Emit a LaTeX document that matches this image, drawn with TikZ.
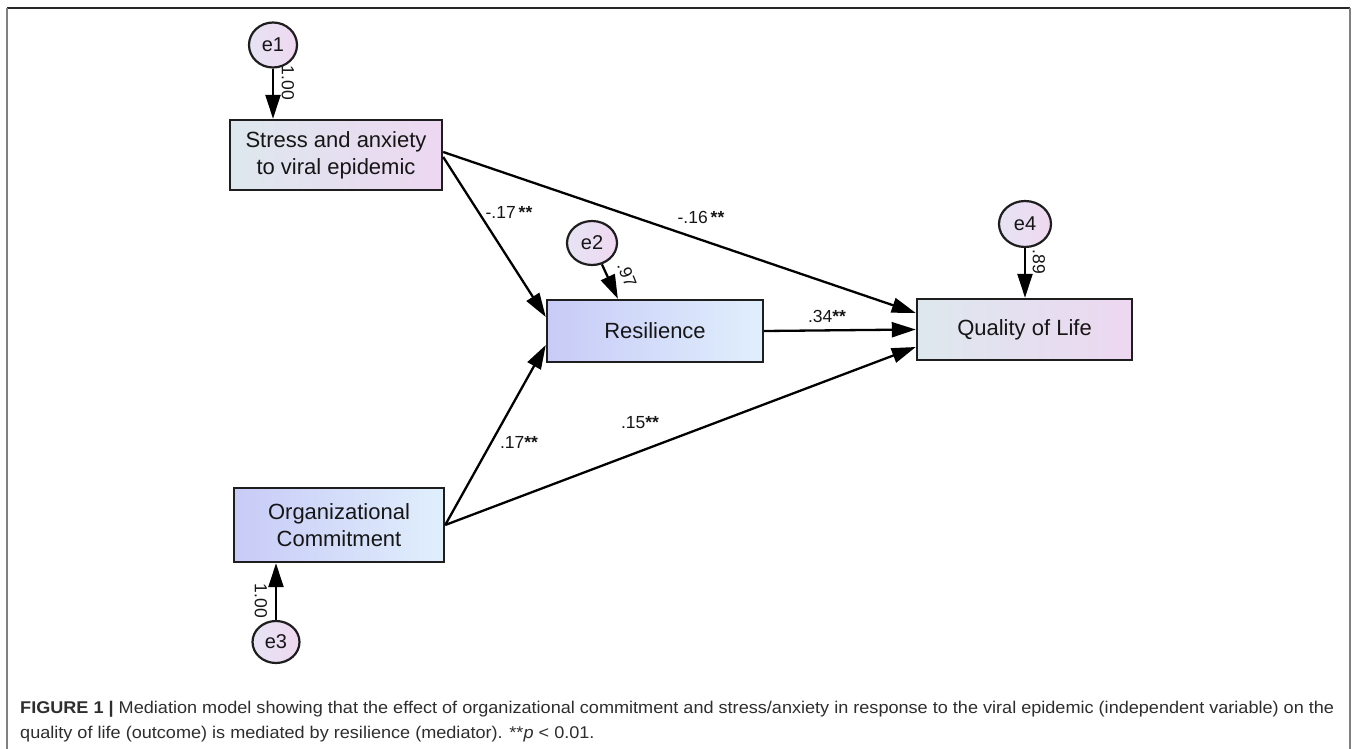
\documentclass[tikz,border=0pt]{standalone}
\usepackage{graphicx}
\usepackage{fontspec}
\setmainfont{Liberation Sans}
\usetikzlibrary{shapes.geometric,arrows.meta,calc}
\newsavebox\capbox
\definecolor{txt}{HTML}{161616}
\definecolor{capc}{HTML}{2E2E2E}
\definecolor{gA}{HTML}{DDE8EE}
\definecolor{gB}{HTML}{EDD7F1}
\definecolor{bA}{HTML}{C8CBF7}
\definecolor{bB}{HTML}{E0EFFC}
\definecolor{cA}{HTML}{E6E4F4}
\definecolor{cB}{HTML}{EFD8F0}
\definecolor{edge}{HTML}{1E1E1E}
\tikzset{
  box/.style={draw=edge, line width=2.4pt, text=txt, align=center, inner sep=0pt,
    font=\fontsize{22}{27}\selectfont},
  pinkbox/.style={box, left color=gA, right color=gB},
  bluebox/.style={box, left color=bA, right color=bB},
  err/.style={ellipse, draw=edge, line width=2.2pt, left color=cA, right color=cB,
    minimum width=48pt, minimum height=45pt, inner sep=0pt, text=txt,
    font=\fontsize{20}{20}\selectfont},
  conn/.style={line width=2.3pt, draw=black, -{Triangle[length=24pt,width=15pt]}},
  lab/.style={font=\fontsize{17.5}{17.5}\selectfont, text=txt, inner sep=0pt},
  captext/.style={anchor=base west, inner sep=0pt, text=capc, font=\fontsize{17}{17}\selectfont}
}
\begin{document}
\begin{tikzpicture}[x=1pt,y=-1pt]
\useasboundingbox (0,0) rectangle (1358,749);
\fill[white] (0,0) rectangle (1358,749);
% frame
\draw[line width=1.5pt, black!85] (7,8) -- (1350,8);
\draw[line width=2pt, black!50] (7,8) -- (7,749);
\draw[line width=2pt, black!50] (1350,8) -- (1350,749);

% boxes
\node[pinkbox, minimum width=212pt, minimum height=70pt] (stress) at (336,155) {Stress and anxiety\\to viral epidemic};
\node[bluebox, minimum width=216pt, minimum height=62pt] (res) at (655,331) {Resilience};
\node[pinkbox, minimum width=215pt, minimum height=61pt] (qol) at (1024.5,329.5) {Quality of Life};
\node[bluebox, minimum width=210pt, minimum height=74pt] (org) at (339,525) {Organizational\\Commitment};

% error terms
\node[err] (e1) at (273,45) {e1};
\node[err, minimum width=50pt, minimum height=44pt] (e2) at (592,243) {e2};
\node[err, minimum width=52pt, minimum height=46pt] (e4) at (1025,224) {e4};
\node[err, minimum width=47pt, minimum height=42pt] (e3) at (276,642) {e3};

% error arrows
\draw[conn] (e1.south) -- (e1.south |- stress.north);
\draw[conn] (e2) -- ($(res.north west)!0.33!(res.north east)$);
\draw[conn] (e4.south) -- (e4.south |- qol.north);
\draw[conn] (e3.north) -- (e3.north |- org.south);

% structural paths
\draw[conn] ($(stress.east)+(0,-3)$) -- ($(qol.west)+(0,-16.5)$);
\draw[conn] ($(stress.east)+(0,2)$) -- ($(res.west)+(0,-14)$);
\draw[conn] (res.east) -- (qol.west);
\draw[conn] (org.east) -- ($(res.west)+(0,14)$);
\draw[conn] (org.east) -- ($(qol.west)+(0,17.5)$);

% labels
\node[lab, rotate=-90] (l1) at (288,83) {1.00};
\node[lab, rotate=-68] (l2) at (627,275) {.97};
\node[lab, rotate=-90] (l4) at (1039,262) {.89};
\node[lab, rotate=-90] (l3) at (261,601) {1.00};
\node[lab] (p1) at (509,212) {-.17\,\textbf{**}};
\node[lab] (p2) at (701,217) {-.16\,\textbf{**}};
\node[lab] (p3) at (827,316) {.34\textbf{**}};
\node[lab] (p4) at (519,442) {.17\textbf{**}};
\node[lab] (p5) at (640,423) {.15\textbf{**}};

% caption
\node[captext] (cap1) at (20,713) {\sbox\capbox{\textbf{FIGURE 1 |} Mediation model showing that the effect of organizational commitment and stress/anxiety in response to the viral epidemic (independent variable) on the}\xdef\capfac{\fpeval{1314pt/(\the\wd\capbox)}}\scalebox{\capfac}[1]{\usebox\capbox}};
\node[captext] (cap2) at (20,738) {\scalebox{\capfac}[1]{quality of life (outcome) is mediated by resilience (mediator). **\textit{p} < 0.01.}};
\end{tikzpicture}
\end{document}
